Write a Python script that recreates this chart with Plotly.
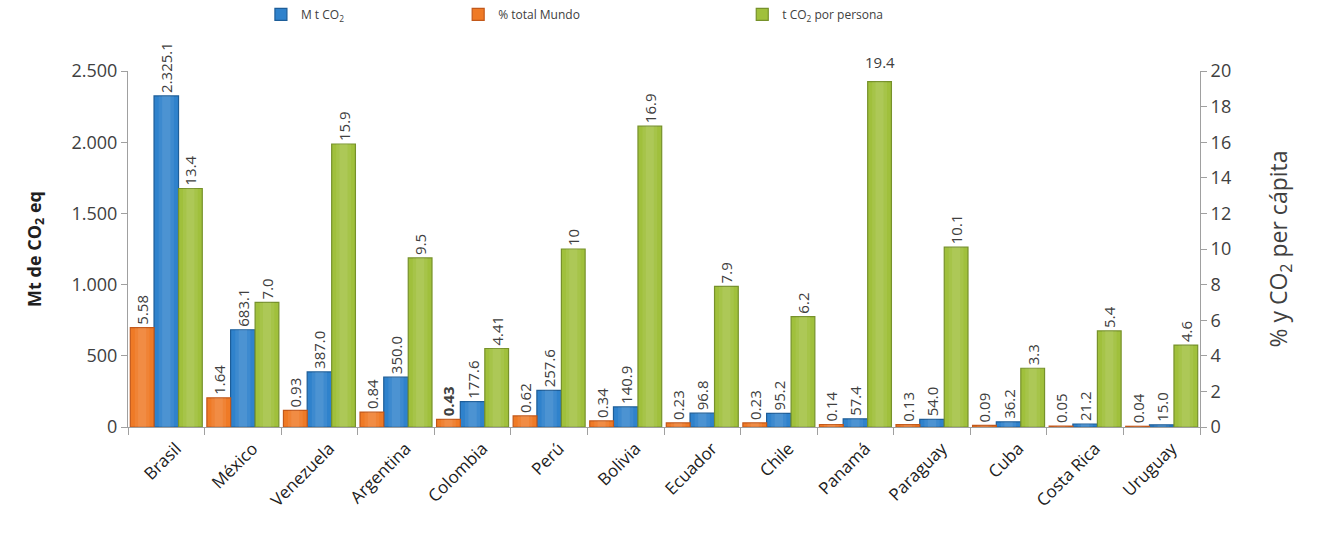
import plotly.graph_objects as go

paises = ["Brasil", "México", "Venezuela", "Argentina", "Colombia", "Perú", "Bolivia",
          "Ecuador", "Chile", "Panamá", "Paraguay", "Cuba", "Costa Rica", "Uruguay"]

# Emisiones totales (Mt CO2 eq), eje izquierdo
mt_co2 = [2325.1, 683.1, 387.0, 350.0, 177.6, 257.6, 140.9, 96.8, 95.2, 57.4, 54.0, 36.2, 21.2, 15.0]
mt_co2_txt = ["2.325.1", "683.1", "387.0", "350.0", "177.6", "257.6", "140.9", "96.8", "95.2",
              "57.4", "54.0", "36.2", "21.2", "15.0"]

# Porcentaje del total mundial, eje derecho
pct_mundo = [5.58, 1.64, 0.93, 0.84, 0.43, 0.62, 0.34, 0.23, 0.23, 0.14, 0.13, 0.09, 0.05, 0.04]
pct_mundo_txt = ["5.58", "1.64", "0.93", "0.84", "<b>0.43</b>", "0.62", "0.34", "0.23", "0.23",
                 "0.14", "0.13", "0.09", "0.05", "0.04"]

# Toneladas de CO2 por persona, eje derecho
t_persona = [13.4, 7.0, 15.9, 9.5, 4.41, 10, 16.9, 7.9, 6.2, 19.4, 10.1, 3.3, 5.4, 4.6]
t_persona_txt = ["13.4", "7.0", "15.9", "9.5", "4.41", "10", "16.9", "7.9", "6.2", "",
                 "10.1", "3.3", "5.4", "4.6"]

FONT = "Open Sans"
TXT = "#404040"
label_font = dict(family=FONT, size=15, color=TXT)

# (valores, textos, nombre, eje, color, borde, desplazamiento, ancho, leyenda)
series = [
    (mt_co2, mt_co2_txt, "M t CO<sub>2</sub>", "y", "#2f82cc", "#1d5d98", -0.16, 0.32, "legend"),
    (pct_mundo, pct_mundo_txt, "% total Mundo", "y2", "#ef7a26", "#c2581a", -0.47, 0.31, "legend2"),
    (t_persona, t_persona_txt, "t CO<sub>2</sub> por persona", "y2", "#a0c03c", "#76912a", 0.16, 0.31, "legend3"),
]

fig = go.Figure()

for vals, txt, name, yax, col, edge, off, w, leg in series:
    fig.add_trace(go.Bar(
        x=paises, y=vals, name=name, yaxis=yax,
        marker=dict(color=col, line=dict(color=edge, width=1.2)),
        offset=off, width=w,
        text=txt, textposition="outside", textangle=-90, constraintext="none",
        textfont=label_font, cliponaxis=False, legend=leg,
    ))

# brillo central de cada barra (efecto de relieve), en dos capas suaves
for frac, alpha in [(0.62, 0.07), (0.34, 0.08)]:
    for vals, txt, name, yax, col, edge, off, w, leg in series:
        fig.add_trace(go.Bar(
            x=paises, y=vals, yaxis=yax, showlegend=False, hoverinfo="skip",
            marker=dict(color=f"rgba(255,255,255,{alpha})", line=dict(width=0)),
            offset=off + w * (1 - frac) / 2, width=w * frac,
        ))

# Panamá: etiqueta horizontal sobre la barra más alta
i_pan = paises.index("Panamá")
fig.add_annotation(
    x=i_pan + 0.315, y=t_persona[i_pan], xref="x", yref="y2",
    text=f"{t_persona[i_pan]}", showarrow=False, yanchor="bottom", yshift=8,
    font=label_font,
)

legend_common = dict(
    orientation="h", yanchor="top", y=1.2, xanchor="left",
    font=dict(family=FONT, size=12, color=TXT), bgcolor="rgba(0,0,0,0)",
)

fig.update_layout(
    width=1320, height=542,
    margin=dict(l=128, r=120, t=71, b=115, autoexpand=False),
    paper_bgcolor="white", plot_bgcolor="white",
    barmode="overlay",
    separators=",.",
    showlegend=True,
    font=dict(family=FONT, color=TXT),
    legend=dict(x=0.124, **legend_common),
    legend2=dict(x=0.308, **legend_common),
    legend3=dict(x=0.573, **legend_common),
    xaxis=dict(
        range=[-0.5, len(paises) - 0.5],
        showline=True, linecolor="#a0a0a0", linewidth=1,
        ticks="outside", tickson="boundaries", ticklen=7, tickcolor="#a0a0a0",
        tickangle=-45, tickfont=dict(family=FONT, size=17, color="#202020"),
        ticklabelshift=10, ticklabelstandoff=4,
        showgrid=False,
    ),
    yaxis=dict(
        range=[0, 2500], dtick=500, tickformat=",d",
        showline=True, linecolor="#a0a0a0", linewidth=1,
        ticks="outside", ticklen=6, tickcolor="#a0a0a0",
        tickfont=dict(family=FONT, size=18, color=TXT),
        showgrid=False, zeroline=False,
        title=dict(text="<b>Mt de CO<sub>2</sub> eq</b>", font=dict(family=FONT, size=18, color="#202020"),
                   standoff=25),
    ),
    yaxis2=dict(
        overlaying="y", side="right",
        range=[0, 20], dtick=2,
        showline=True, linecolor="#a0a0a0", linewidth=1,
        ticks="outside", ticklen=6, tickcolor="#a0a0a0",
        tickfont=dict(family=FONT, size=18, color=TXT),
        showgrid=False, zeroline=False,
        title=dict(text="% y CO<sub>2</sub> per cápita", font=dict(family=FONT, size=23, color=TXT),
                   standoff=40),
    ),
)

fig.write_html("out.html")
